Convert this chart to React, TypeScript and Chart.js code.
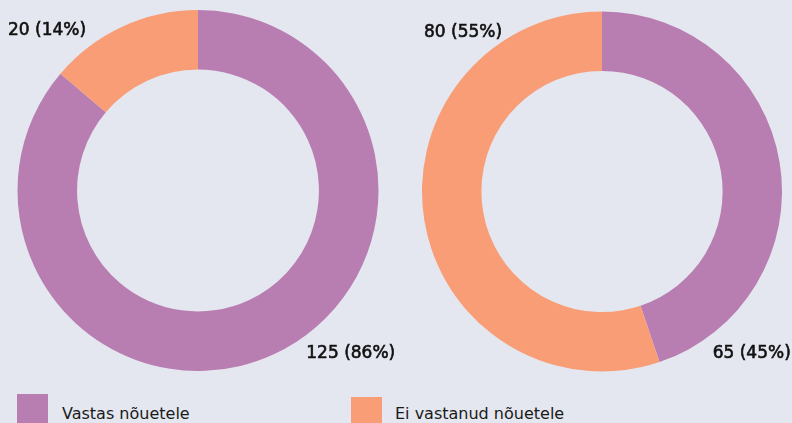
import React, { useEffect, useRef } from "react";
import { Chart, registerables } from "chart.js";

Chart.register(...registerables);

const categories = ["Vastas nõuetele", "Ei vastanud nõuetele"];
const leftValues = [125, 20];
const rightValues = [65, 80];
const leftPercents = [86, 14];
const rightPercents = [45, 55];

const COLORS = ["#b87db1", "#f99d77"];
const BG = "#e4e7ef";

type Placement = { dx: number; dy: number; align: CanvasTextAlign };

const labelPlugin = {
  id: "outerLabels",
  afterDraw(chart: any) {
    const opts = chart.options.plugins.outerLabels;
    if (!opts) return;
    const meta = chart.getDatasetMeta(0);
    const arc = meta.data[0];
    if (!arc) return;
    const cx = arc.x;
    const cy = arc.y;
    const r = arc.outerRadius;
    const ctx = chart.ctx;
    ctx.save();
    ctx.font = "17px 'DejaVu Sans'";
    ctx.fillStyle = "#111111";
    ctx.strokeStyle = "#111111";
    ctx.lineWidth = 0.6;
    ctx.textBaseline = "alphabetic";
    const ds = chart.data.datasets[0];
    opts.placements.forEach((p: Placement, i: number) => {
      ctx.textAlign = p.align;
      const text = `${ds.data[i]} (${opts.percents[i]}%)`;
      const x = cx + p.dx * r;
      const y = cy + p.dy * r;
      ctx.fillText(text, x, y);
      ctx.strokeText(text, x, y);
    });
    ctx.restore();
  },
};

function Donut(props: {
  values: number[];
  percents: number[];
  placements: Placement[];
  style: React.CSSProperties;
  width: number;
  height: number;
}) {
  const ref = useRef<HTMLCanvasElement | null>(null);
  useEffect(() => {
    if (!ref.current) return;
    const chart = new Chart(ref.current, {
      type: "doughnut",
      data: {
        labels: categories,
        datasets: [
          {
            data: props.values,
            backgroundColor: COLORS,
            borderWidth: 0,
          },
        ],
      },
      options: {
        responsive: false,
        animation: false,
        cutout: "67%",
        layout: { padding: 10 },
        plugins: {
          legend: { display: false },
          tooltip: { enabled: false },
          outerLabels: { placements: props.placements, percents: props.percents },
        } as any,
      },
      plugins: [labelPlugin],
    });
    return () => chart.destroy();
  }, []);
  return (
    <canvas
      ref={ref}
      width={props.width}
      height={props.height}
      style={{ position: "absolute", width: props.width, height: props.height, ...props.style }}
    />
  );
}

export default function App() {
  useEffect(() => {
    document.body.style.margin = "0";
    document.body.style.background = BG;
  }, []);
  const legendSquares = [
    { left: 17, top: 394 },
    { left: 351, top: 397 },
  ];
  const legendText = [62, 395];
  return (
    <div
      style={{
        position: "absolute",
        left: 0,
        top: 0,
        width: 792,
        height: 423,
        overflow: "hidden",
        background: BG,
      }}
    >
      <Donut
        values={leftValues}
        percents={leftPercents}
        width={396}
        height={381}
        style={{ left: 0, top: 0 }}
        placements={[
          { dx: 0.6, dy: 0.93, align: "left" },
          { dx: -0.62, dy: -0.86, align: "right" },
        ]}
      />
      <Donut
        values={rightValues}
        percents={rightPercents}
        width={380}
        height={381}
        style={{ left: 412, top: 1 }}
        placements={[
          { dx: 0.615, dy: 0.925, align: "left" },
          { dx: -0.555, dy: -0.86, align: "right" },
        ]}
      />
      {categories.map((c, i) => (
        <React.Fragment key={c}>
          <div
            style={{
              position: "absolute",
              left: legendSquares[i].left,
              top: legendSquares[i].top,
              width: 31,
              height: 31,
              background: COLORS[i],
            }}
          />
          <span
            style={{
              position: "absolute",
              left: legendText[i],
              top: 405.5,
              font: "16px 'DejaVu Sans'",
              lineHeight: "16px",
              color: "#1a1a1a",
              whiteSpace: "nowrap",
            }}
          >
            {c}
          </span>
        </React.Fragment>
      ))}
    </div>
  );
}
